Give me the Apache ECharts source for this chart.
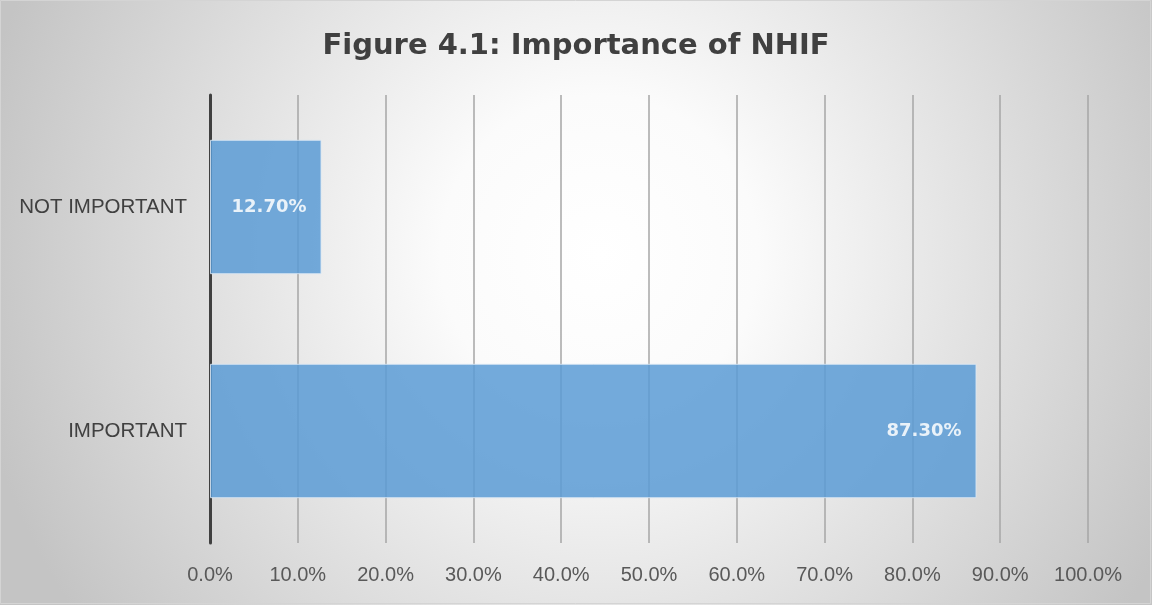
<!DOCTYPE html>
<html>
<head>
<meta charset="utf-8">
<script src="https://cdn.jsdelivr.net/npm/echarts@6/dist/echarts.min.js"></script>
<style>
  html, body { margin: 0; padding: 0; }
  #chart { width: 1152px; height: 605px; }
</style>
</head>
<body>
<div id="chart"></div>
<script>
  // data
  const categories = ['IMPORTANT', 'NOT IMPORTANT'];
  const shares = [87.3, 12.7];
  const titleText = 'Figure 4.1: Importance of NHIF';

  const chart = echarts.init(document.getElementById('chart'));

  const option = {
    backgroundColor: new echarts.graphic.RadialGradient(0.52, 0.42, 1.05, [
      {offset: 0, color: '#ffffff'},
      {offset: 0.25, color: '#fbfbfb'},
      {offset: 1, color: '#c4c4c4'}
    ]),
    graphic: [{
      type: 'rect',
      shape: {x: 0.5, y: 0.5, width: 1150, height: 603},
      style: {fill: 'none', stroke: '#d4d4d4', lineWidth: 1},
      silent: true
    }],
    title: {
      text: titleText,
      left: 'center',
      top: 27,
      textStyle: {
        fontFamily: 'DejaVu Sans',
        fontWeight: 'bold',
        fontSize: 29,
        color: '#404040'
      }
    },
    grid: {left: 210, right: 64, top: 95, bottom: 62, containLabel: false},
    xAxis: {
      type: 'value',
      min: 0,
      max: 100,
      interval: 10,
      axisLine: {show: false},
      axisTick: {show: false},
      splitLine: {show: true, lineStyle: {color: '#a6a6a6', width: 1.5}},
      axisLabel: {
        margin: 22,
        fontFamily: 'Liberation Sans',
        fontSize: 20,
        color: '#595959',
        formatter: v => v.toFixed(1) + '%'
      }
    },
    yAxis: {
      type: 'category',
      data: categories,
      axisLine: {show: true, onZero: false, lineStyle: {color: '#404040', width: 3}},
      axisTick: {show: false},
      axisLabel: {
        margin: 23,
        fontFamily: 'Liberation Sans',
        fontSize: 20.5,
        color: '#404040'
      }
    },
    series: [{
      type: 'bar',
      data: shares,
      barCategoryGap: '40%',
      z: 1,
      itemStyle: {color: '#5b9bd5', opacity: 0.85, borderColor: '#dbe8f5', borderWidth: 1},
      label: {
        show: true,
        position: 'insideRight',
        distance: 15,
        fontFamily: 'DejaVu Sans',
        fontWeight: 'bold',
        fontSize: 18,
        color: '#ffffff',
        formatter: p => p.value.toFixed(2) + '%'
      }
    }]
  };

  chart.setOption(option);
</script>
</body>
</html>
